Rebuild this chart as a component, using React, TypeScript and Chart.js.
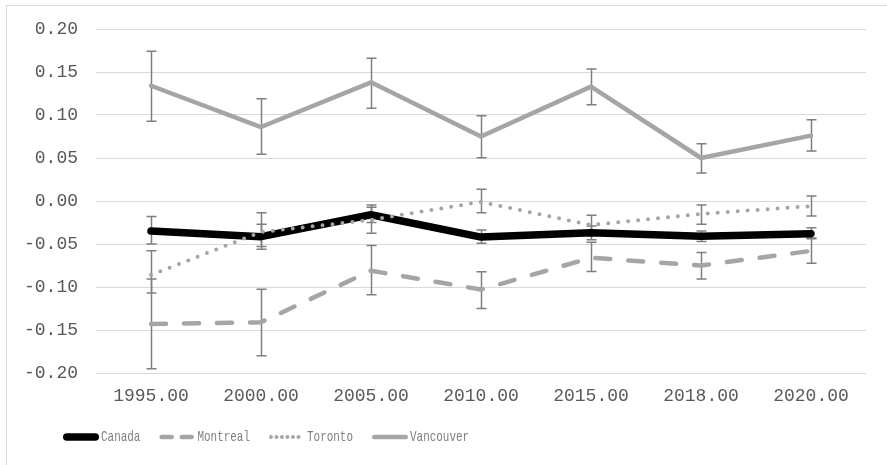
import { useEffect, useRef } from "react";
import { Chart, registerables } from "chart.js";

Chart.register(...registerables);

// Survey years (category labels)
const years = ["1995.00", "2000.00", "2005.00", "2010.00", "2015.00", "2018.00", "2020.00"];

// Series values
const canada = [-0.035, -0.0415, -0.016, -0.042, -0.037, -0.041, -0.038];
const montreal = [-0.143, -0.141, -0.081, -0.103, -0.066, -0.075, -0.058];
const toronto = [-0.086, -0.036, -0.022, -0.001, -0.028, -0.015, -0.006];
const vancouver = [0.134, 0.086, 0.138, 0.075, 0.133, 0.05, 0.076];

// Error bar ends (low / high)
const canadaLow = [-0.05, -0.053, -0.025, -0.049, -0.045, -0.047, -0.044];
const canadaHigh = [-0.018, -0.027, -0.0047, -0.0337, -0.029, -0.035, -0.031];
const montrealLow = [-0.195, -0.18, -0.109, -0.125, -0.082, -0.0907, -0.0725];
const montrealHigh = [-0.0907, -0.1027, -0.0516, -0.0822, -0.048, -0.06, -0.043];
const torontoLow = [-0.107, -0.056, -0.0376, -0.0136, -0.039, -0.027, -0.0174];
const torontoHigh = [-0.0578, -0.0136, -0.0073, 0.0136, -0.0167, -0.0047, 0.0058];
const vancouverLow = [0.0927, 0.0543, 0.1078, 0.0504, 0.112, 0.0326, 0.058];
const vancouverHigh = [0.174, 0.119, 0.166, 0.0992, 0.1535, 0.0667, 0.0945];

// Y axis range and step
const yMin = -0.2;
const yMax = 0.2;
const yStep = 0.05;

const FONT = "'Liberation Mono', 'DejaVu Sans Mono', monospace";

const errorBarPlugin = {
  id: "errorBars",
  beforeDatasetsDraw(chart: any) {
    const { ctx, scales } = chart;
    const xs = scales.x;
    const ys = scales.y;
    ctx.save();
    ctx.strokeStyle = "#7f7f7f";
    ctx.lineWidth = 1.5;
    ctx.setLineDash([]);
    chart.data.datasets.forEach((ds: any) => {
      const lows: number[] = ds.errLow || [];
      const highs: number[] = ds.errHigh || [];
      lows.forEach((lo, i) => {
        const hi = highs[i];
        const x = Math.round(xs.getPixelForValue(i)) + 0.5;
        const y1 = ys.getPixelForValue(lo);
        const y2 = ys.getPixelForValue(hi);
        ctx.beginPath();
        ctx.moveTo(x, y1);
        ctx.lineTo(x, y2);
        ctx.moveTo(x - 5, y1);
        ctx.lineTo(x + 5, y1);
        ctx.moveTo(x - 5, y2);
        ctx.lineTo(x + 5, y2);
        ctx.stroke();
      });
    });
    ctx.restore();
  },
};

// Legend row under the axis: line sample followed by a narrow monospace label
const legendPlugin = {
  id: "bottomLegend",
  afterDraw(chart: any) {
    const { ctx } = chart;
    ctx.save();
    ctx.font = `15px ${FONT}`;
    ctx.textBaseline = "middle";
    ctx.textAlign = "left";
    const squeeze = 0.73;
    let x = 56;
    const y = 431;
    chart.data.datasets.forEach((ds: any) => {
      const lw = ds.borderWidth;
      ctx.beginPath();
      ctx.setLineDash(ds.legendDash || ds.borderDash || []);
      ctx.lineCap = "round";
      ctx.lineWidth = lw;
      ctx.strokeStyle = ds.borderColor;
      ctx.moveTo(x + lw / 2, y);
      ctx.lineTo(x + 36 - lw / 2, y);
      ctx.stroke();
      ctx.setLineDash([]);
      x += 38;
      ctx.fillStyle = "#7f7f7f";
      ctx.save();
      ctx.translate(x, y);
      ctx.scale(squeeze, 1);
      ctx.fillText(ds.label, 0, 0);
      ctx.restore();
      x += ctx.measureText(ds.label).width * squeeze + 19;
    });
    ctx.restore();
  },
};

export default function App() {
  const canvasRef = useRef<HTMLCanvasElement | null>(null);

  useEffect(() => {
    if (!canvasRef.current) return;
    const chart = new Chart(canvasRef.current, {
      type: "line",
      data: {
        labels: years,
        datasets: [
          {
            label: "Canada",
            data: canada,
            errLow: canadaLow,
            errHigh: canadaHigh,
            borderColor: "#000000",
            backgroundColor: "#000000",
            borderWidth: 7.5,
            borderCapStyle: "round",
            borderJoinStyle: "round",
            pointRadius: 0,
            tension: 0,
            order: 4,
          } as any,
          {
            label: "Montreal",
            data: montreal,
            errLow: montrealLow,
            errHigh: montrealHigh,
            borderColor: "#a5a5a5",
            backgroundColor: "#a5a5a5",
            borderWidth: 4.5,
            borderDash: [15, 18],
            legendDash: [10, 10],
            borderCapStyle: "round",
            borderJoinStyle: "round",
            pointRadius: 0,
            tension: 0,
            order: 3,
          } as any,
          {
            label: "Toronto",
            data: toronto,
            errLow: torontoLow,
            errHigh: torontoHigh,
            borderColor: "#a5a5a5",
            backgroundColor: "#a5a5a5",
            borderWidth: 4,
            borderDash: [0, 10],
            legendDash: [0, 5.5],
            borderCapStyle: "round",
            borderJoinStyle: "round",
            pointRadius: 0,
            tension: 0,
            order: 2,
          } as any,
          {
            label: "Vancouver",
            data: vancouver,
            errLow: vancouverLow,
            errHigh: vancouverHigh,
            borderColor: "#a5a5a5",
            backgroundColor: "#a5a5a5",
            borderWidth: 4.5,
            borderCapStyle: "round",
            borderJoinStyle: "round",
            pointRadius: 0,
            tension: 0,
            order: 1,
          } as any,
        ],
      },
      options: {
        responsive: false,
        animation: false,
        devicePixelRatio: 1,
        layout: { padding: { left: 0, right: 21, top: 23, bottom: 0 } },
        plugins: {
          legend: { display: false },
          tooltip: { enabled: false },
        },
        scales: {
          x: {
            offset: true,
            grid: { display: false, drawTicks: false },
            border: { display: false },
            ticks: {
              color: "#595959",
              font: { family: FONT, size: 18 },
              padding: 12,
              maxRotation: 0,
              autoSkip: false,
            },
            afterFit(axis: any) {
              axis.height = 92;
            },
          },
          y: {
            min: yMin,
            max: yMax,
            grid: { color: "#d9d9d9", lineWidth: 1, drawTicks: false },
            border: { display: false },
            ticks: {
              stepSize: yStep,
              color: "#595959",
              font: { family: FONT, size: 18 },
              padding: 18,
              callback: (v: any) => {
                const n = Math.abs(Number(v)) < 1e-9 ? 0 : Number(v);
                return n.toFixed(2);
              },
            },
            afterFit(axis: any) {
              axis.width = 89;
              axis.paddingTop = 0;
              axis.paddingBottom = 0;
            },
          },
        },
      },
      plugins: [errorBarPlugin, legendPlugin],
    });
    return () => chart.destroy();
  }, []);

  return (
    <div
      style={{
        position: "fixed",
        left: 6,
        top: 5,
        width: 881,
        height: 460,
        borderTop: "1px solid #d9d9d9",
        borderLeft: "1px solid #d9d9d9",
        boxSizing: "border-box",
        background: "#ffffff",
      }}
    >
      <canvas ref={canvasRef} width={880} height={459} style={{ display: "block" }} />
    </div>
  );
}
